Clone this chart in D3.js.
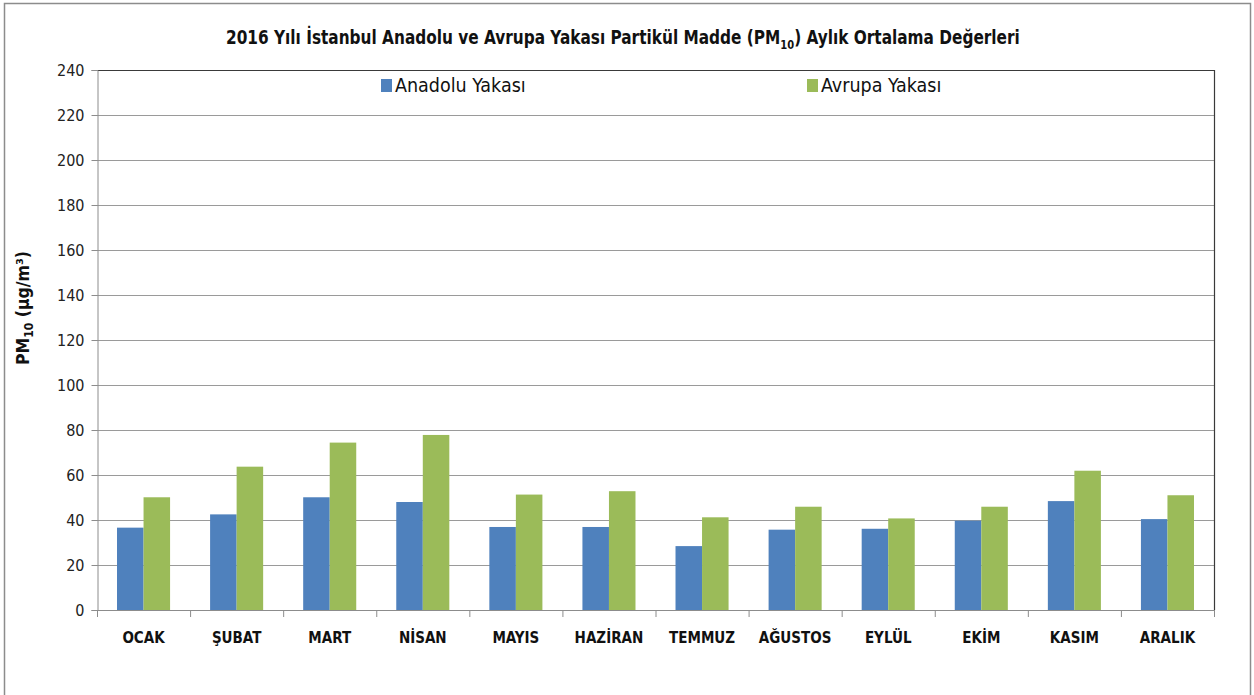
<!DOCTYPE html>
<html>
<head>
<meta charset="utf-8">
<script src="https://cdn.jsdelivr.net/npm/d3@7"></script>
<style>
  body { margin: 0; background: #fff; }
  text { font-family: "Liberation Sans Narrow", "DejaVu Sans Condensed", "Open Sans", sans-serif; }
</style>
</head>
<body>
<script>
var months = ["OCAK", "ŞUBAT", "MART", "NİSAN", "MAYIS", "HAZİRAN", "TEMMUZ", "AĞUSTOS", "EYLÜL", "EKİM", "KASIM", "ARALIK"];
var seriesNames = ["Anadolu Yakası", "Avrupa Yakası"];
var anadolu = [36.6, 42.5, 50.1, 48.0, 36.9, 36.9, 28.4, 35.7, 36.1, 39.7, 48.4, 40.4];
var avrupa = [50.1, 63.7, 74.4, 77.8, 51.3, 52.8, 41.2, 45.9, 40.7, 45.9, 61.9, 51.0];
var yTicks = [0, 20, 40, 60, 80, 100, 120, 140, 160, 180, 200, 220, 240];
var colors = ["#4f81bd", "#9bbb59"];

var width = 1254, height = 695;
var plotLeft = 97, plotRight = 1214, plotTop = 70, plotBottom = 610;

var svg = d3.select("body")
  .append("svg")
  .attr("width", width)
  .attr("height", height);

// outer chart frame
svg.append("rect")
  .attr("x", 4.5).attr("y", 3.5)
  .attr("width", 1246).attr("height", 700)
  .attr("fill", "#fff")
  .attr("stroke", "#8c8c8c")
  .attr("stroke-width", 1.5);

var x = d3.scaleBand()
  .domain(months)
  .range([plotLeft, plotRight])
  .paddingInner(0.43)
  .paddingOuter(0.215);

var x1 = d3.scaleBand()
  .domain(seriesNames)
  .range([0, x.bandwidth()]);

var y = d3.scaleLinear()
  .domain([0, 240])
  .range([plotBottom, plotTop]);

// gridlines
svg.append("g")
  .selectAll("line")
  .data(yTicks.slice(1, -1))
  .enter()
  .append("line")
  .attr("x1", plotLeft).attr("x2", plotRight)
  .attr("y1", function(d) { return y(d) + 0.5; })
  .attr("y2", function(d) { return y(d) + 0.5; })
  .attr("stroke", "#9a9a9a")
  .attr("stroke-width", 1);

// plot border top + right
svg.append("path")
  .attr("d", "M" + plotLeft + "," + (plotTop + 0.5) + "H" + (plotRight + 0.5) + "V" + plotBottom)
  .attr("fill", "none")
  .attr("stroke", "#3a3a3a")
  .attr("stroke-width", 1.2);

// bars
var rows = months.map(function(m, i) {
  return { month: m, values: [anadolu[i], avrupa[i]] };
});

var groups = svg.append("g")
  .selectAll("g")
  .data(rows)
  .enter()
  .append("g")
  .attr("transform", function(d) { return "translate(" + x(d.month) + ",0)"; });

groups.selectAll("rect")
  .data(function(d) {
    return d.values.map(function(v, j) { return { name: seriesNames[j], value: v, j: j }; });
  })
  .enter()
  .append("rect")
  .attr("x", function(d) { return x1(d.name); })
  .attr("y", function(d) { return y(d.value); })
  .attr("width", x1.bandwidth())
  .attr("height", function(d) { return y(0) - y(d.value); })
  .attr("fill", function(d) { return colors[d.j]; });

// y axis
var yAxis = svg.append("g")
  .attr("transform", "translate(" + (plotLeft + 0.5) + ",0)")
  .call(d3.axisLeft(y).tickValues(yTicks).tickSize(6).tickPadding(7));
yAxis.select(".domain").attr("stroke", "#8c8c8c");
yAxis.selectAll(".tick line").attr("stroke", "#8c8c8c");
yAxis.selectAll(".tick text")
  .attr("font-size", 16)
  .attr("fill", "#222")
  .style("font-family", "'Liberation Sans Narrow', 'DejaVu Sans Condensed', sans-serif");

// x axis line with boundary ticks
svg.append("line")
  .attr("x1", plotLeft).attr("x2", plotRight)
  .attr("y1", plotBottom + 0.5).attr("y2", plotBottom + 0.5)
  .attr("stroke", "#8c8c8c");

var step = x.step();
svg.append("g")
  .selectAll("line")
  .data(d3.range(months.length + 1))
  .enter()
  .append("line")
  .attr("x1", function(i) { return plotLeft + i * step + 0.5; })
  .attr("x2", function(i) { return plotLeft + i * step + 0.5; })
  .attr("y1", plotBottom)
  .attr("y2", plotBottom + 7)
  .attr("stroke", "#8c8c8c");

svg.append("g")
  .selectAll("text")
  .data(months)
  .enter()
  .append("text")
  .attr("x", function(d) { return x(d) + x.bandwidth() / 2; })
  .attr("y", 643)
  .attr("text-anchor", "middle")
  .attr("font-size", 15)
  .attr("font-weight", "bold")
  .attr("fill", "#111")
  .text(function(d) { return d; });

// y axis title
var yt = svg.append("text")
  .attr("transform", "translate(29,308) rotate(-90)")
  .attr("text-anchor", "middle")
  .attr("font-size", 17.5)
  .attr("font-weight", "bold")
  .attr("fill", "#111");
yt.append("tspan").text("PM");
yt.append("tspan").attr("font-size", 12).attr("dy", 4).text("10");
yt.append("tspan").attr("dy", -4).text(" (µg/m³)");

// title
var title = svg.append("text")
  .attr("x", 0)
  .attr("y", 0)
  .attr("font-size", 20)
  .attr("font-weight", "bold")
  .attr("fill", "#111");
title.append("tspan").text("2016 Yılı İstanbul Anadolu ve Avrupa Yakası Partikül Madde (PM");
title.append("tspan").attr("font-size", 13).attr("dy", 5).text("10");
title.append("tspan").attr("dy", -5).text(")  Aylık Ortalama Değerleri");
var tw = title.node().getComputedTextLength();
var targetW = 794;
title.attr("transform", "translate(226,44) scale(" + (targetW / tw) + ",1)");

// legend
var legendX = [381, 807];
var legend = svg.append("g")
  .selectAll("g")
  .data(seriesNames)
  .enter()
  .append("g")
  .attr("transform", function(d, i) { return "translate(" + legendX[i] + ",79)"; });
legend.append("rect")
  .attr("width", 11).attr("height", 13)
  .attr("fill", function(d, i) { return colors[i]; });
legend.append("text")
  .attr("x", 14)
  .attr("y", 13)
  .attr("font-size", 19.5)
  .attr("fill", "#111")
  .text(function(d) { return d; });
</script>
</body>
</html>
